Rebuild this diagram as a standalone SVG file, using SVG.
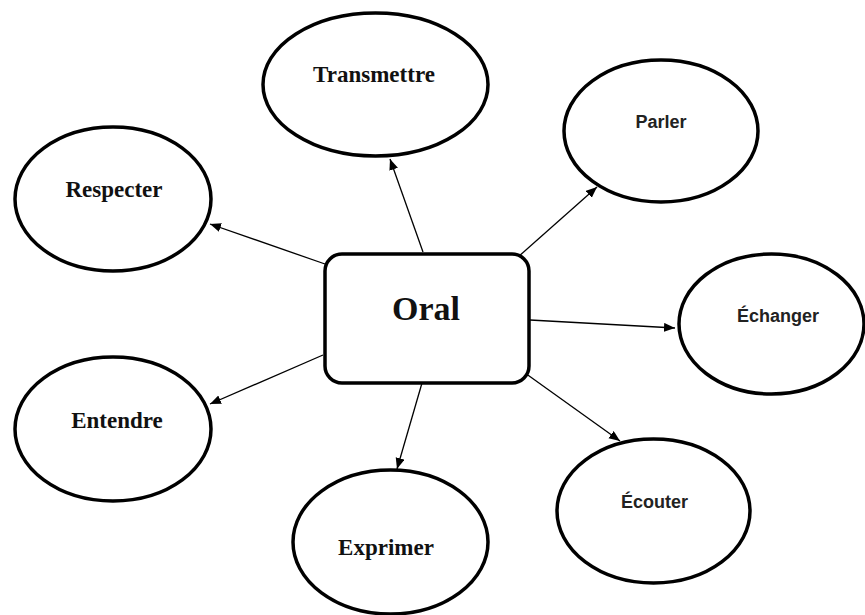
<svg xmlns="http://www.w3.org/2000/svg" width="865" height="615" viewBox="0 0 865 615">
<style>
.node{fill:#fff;stroke:#000;stroke-width:3.5}
.serif{font-family:"Liberation Serif","Times New Roman",serif;font-weight:bold;font-size:23px;fill:#111;text-anchor:middle}
.sans{font-family:"Liberation Sans",Arial,sans-serif;font-weight:bold;font-size:18px;fill:#222;text-anchor:middle}
.edge{stroke:#000;stroke-width:1.3;fill:none;marker-end:url(#ah)}
</style>
<defs>
<marker id="ah" markerUnits="userSpaceOnUse" markerWidth="12" markerHeight="10" refX="11" refY="4.5" orient="auto">
<path d="M0,0 L11,4.5 L0,9 z" fill="#000"/>
</marker>
</defs>
<rect width="865" height="615" fill="#fff"/>
<g id="connectors">
<line class="edge" x1="423" y1="252" x2="390" y2="159"/>
<line class="edge" x1="518" y1="257" x2="597" y2="187"/>
<line class="edge" x1="325" y1="264" x2="210" y2="224"/>
<line class="edge" x1="530" y1="320" x2="675" y2="328"/>
<line class="edge" x1="323" y1="355" x2="210" y2="404"/>
<line class="edge" x1="422" y1="383" x2="397" y2="469"/>
<line class="edge" x1="525" y1="373" x2="620" y2="441"/>
</g>
<g id="oral">
<rect class="node" x="325" y="254" width="204" height="129" rx="17" ry="17"/>
<text class="serif" x="426" y="320" style="font-size:34px">Oral</text>
</g>
<g id="transmettre">
<ellipse class="node" cx="375.5" cy="84.5" rx="112.5" ry="71.5"/>
<text class="serif" x="374" y="82">Transmettre</text>
</g>
<g id="parler">
<ellipse class="node" cx="661" cy="131" rx="97" ry="71"/>
<text class="sans" x="661" y="128">Parler</text>
</g>
<g id="respecter">
<ellipse class="node" cx="113" cy="199" rx="98" ry="72"/>
<text class="serif" x="114" y="197">Respecter</text>
</g>
<g id="echanger">
<ellipse class="node" cx="771.5" cy="324" rx="92.5" ry="70"/>
<text class="sans" x="778" y="322">Échanger</text>
</g>
<g id="entendre">
<ellipse class="node" cx="113" cy="429" rx="98" ry="72"/>
<text class="serif" x="117" y="428">Entendre</text>
</g>
<g id="exprimer">
<ellipse class="node" cx="390.5" cy="542" rx="97.5" ry="72"/>
<text class="serif" x="386" y="555">Exprimer</text>
</g>
<g id="ecouter">
<ellipse class="node" cx="653.5" cy="511" rx="96.5" ry="72"/>
<text class="sans" x="654.5" y="508">Écouter</text>
</g>
</svg>
